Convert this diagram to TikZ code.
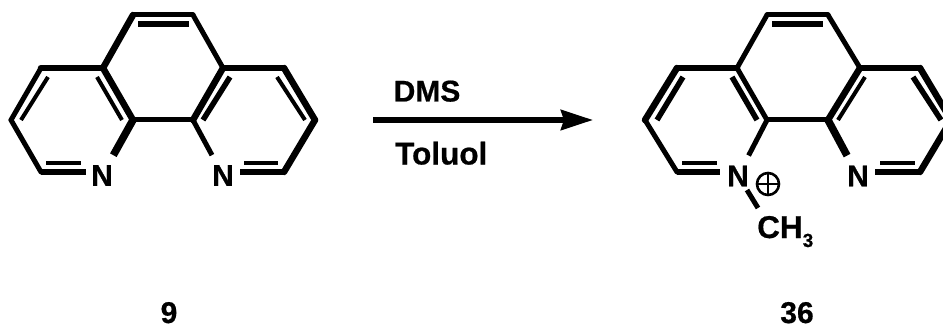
\documentclass[tikz,border=0pt]{standalone}
\usepackage{fontspec}
\setmainfont[BoldFeatures={FakeBold=0.6}]{Liberation Sans}
\usetikzlibrary{arrows.meta}
\tikzset{
  bnd/.style={draw=black,line width=5pt,line cap=round},
  hvy/.style={draw=black,line width=6.5pt,line cap=round},
  inr/.style={draw=black,line width=4pt},
  inb/.style={draw=black,line width=5.5pt},
  atom/.style={font=\bfseries\fontsize{30}{30}\selectfont,inner sep=0pt,minimum width=21pt,minimum height=21pt},
  lbl/.style={font=\bfseries\fontsize{30}{30}\selectfont,inner sep=0pt,anchor=base west},
  lblb/.style={lbl,font=\bfseries\fontsize{31.5}{31.5}\selectfont},
  tonl/.style={shorten >=#1},
}
\begin{document}
\begin{tikzpicture}[x=1pt,y=-1pt]
\useasboundingbox (0,0) rectangle (943,326);
% ---- left molecule
\coordinate (a1) at (133,15); \coordinate (a2) at (193,15);
\coordinate (a3) at (103,68); \coordinate (a4) at (223,68);
\coordinate (a5) at (41,68);  \coordinate (a6) at (11,120);
\coordinate (a7) at (41,172); \coordinate (a8) at (133,120);
\coordinate (a9) at (193,120);\coordinate (a10) at (284,68);
\coordinate (a11) at (315,120);\coordinate (a12) at (284,172);
\node[atom] (an1) at (102,175.5) {N};
\node[atom] (an2) at (223,175.5) {N};
\coordinate (i1) at (138,24); \coordinate (i2) at (189,24);
\coordinate (i3) at (48,77);  \coordinate (i4) at (21,120);
\coordinate (i5) at (97,77);  \coordinate (i6) at (122,120);
\coordinate (i7) at (46,163); \coordinate (i8) at (81,163);
\coordinate (i9) at (230,77); \coordinate (i10) at (203,120);
\coordinate (i11) at (277,77);\coordinate (i12) at (305,120);
\coordinate (i13) at (244,163);\coordinate (i14) at (278,163);
\draw[bnd] (a1)--(a2);
\draw[hvy] (a3)--(a1);
\draw[bnd] (a2)--(a4);
\draw[hvy] (a5)--(a3);
\draw[bnd] (a5)--(a6);
\draw[bnd] (a6)--(a7);
\draw[hvy] (a3)--(a8);
\draw[bnd] (a8)--(a9);
\draw[hvy] (a4)--(a9);
\draw[hvy] (a4)--(a10);
\draw[hvy] (a10)--(a11);
\draw[hvy] (a11)--(a12);
\draw[bnd,line cap=butt,line width=7.5pt,tonl=11pt] (a8)--(an1);
\draw[bnd,line cap=butt,tonl=11pt] (a9)--(an2);
\draw[hvy,line cap=butt,shorten >=5pt] (a7)--(a7-|an1.west);
\draw[hvy,line cap=butt,shorten >=6pt] (a12)--(a12-|an2.east);
\draw[inb] (i1)--(i2);
\draw[inr] (i3)--(i4);
\draw[inr] (i5)--(i6);
\draw[inr] (i7)--(i8);
\draw[inb] (i9)--(i10);
\draw[inr] (i11)--(i12);
\draw[inr] (i13)--(i14);
% ---- arrow
\coordinate (r1) at (373,120); \coordinate (r2) at (593,120);
\draw[draw=black,line width=5.5pt,-{Stealth[length=32pt,width=20pt,inset=3pt]}] (r1)--(r2);
\node[lbl] (dms) at (393.5,101.5) {DMS};
\node[lblb] (tol) at (395,164.5) {Toluol};
% ---- right molecule
\coordinate (b1) at (767,15); \coordinate (b2) at (828,15);
\coordinate (b3) at (737,68); \coordinate (b4) at (860,68);
\coordinate (b5) at (677,68); \coordinate (b6) at (645,120);
\coordinate (b7) at (677,172);\coordinate (b8) at (767,120);
\coordinate (b9) at (828,120);\coordinate (b10) at (920,68);
\coordinate (b11) at (951,120);\coordinate (b12) at (920,172);
\node[atom] (bn1) at (738,176) {N};
\node[atom] (bn2) at (858,176) {N};
\node[circle,draw=black,line width=2.6pt,minimum size=22pt,inner sep=0pt] (plus) at (768,184) {};
\draw[line width=2.6pt] (plus.west)--(plus.east);
\draw[line width=2.6pt] (plus.north)--(plus.south);
\node[lblb] (me) at (757,238) {CH\raisebox{-9pt}{\fontsize{19}{19}\selectfont 3}};
\coordinate (m1) at (747,190); \coordinate (m2) at (758,208);
\coordinate (j1) at (772,24); \coordinate (j2) at (823,24);
\coordinate (j3) at (683,77); \coordinate (j4) at (657,120);
\coordinate (j5) at (732,77); \coordinate (j6) at (757,120);
\coordinate (j7) at (682,163);\coordinate (j8) at (717,163);
\coordinate (j9) at (865,77); \coordinate (j10) at (838,120);
\coordinate (j11) at (913,77);\coordinate (j12) at (941,120);
\coordinate (j13) at (880,163);\coordinate (j14) at (915,163);
\draw[bnd] (b1)--(b2);
\draw[bnd] (b3)--(b1);
\draw[bnd] (b2)--(b4);
\draw[hvy] (b5)--(b3);
\draw[hvy] (b5)--(b6);
\draw[bnd] (b6)--(b7);
\draw[bnd] (b3)--(b8);
\draw[bnd] (b8)--(b9);
\draw[hvy] (b4)--(b9);
\draw[hvy] (b4)--(b10);
\draw[hvy] (b10)--(b11);
\draw[hvy] (b11)--(b12);
\draw[bnd,line cap=butt,tonl=11pt] (b8)--(bn1);
\draw[bnd,line cap=butt,line width=7.5pt,tonl=11pt] (b9)--(bn2);
\draw[hvy,line cap=butt,shorten >=7pt] (b7)--(b7-|bn1.west);
\draw[hvy,line cap=butt,shorten >=6pt] (b12)--(b12-|bn2.east);
\draw[bnd,line cap=butt] (m1)--(m2);
\draw[inb] (j1)--(j2);
\draw[inb] (j3)--(j4);
\draw[inb] (j5)--(j6);
\draw[inr] (j7)--(j8);
\draw[inr] (j9)--(j10);
\draw[inb] (j11)--(j12);
\draw[inr] (j13)--(j14);
% ---- numbers
\node[lbl,anchor=base] (n9) at (169,323) {9};
\node[lbl,anchor=base] (n36) at (797,323) {36};
\end{tikzpicture}
\end{document}
